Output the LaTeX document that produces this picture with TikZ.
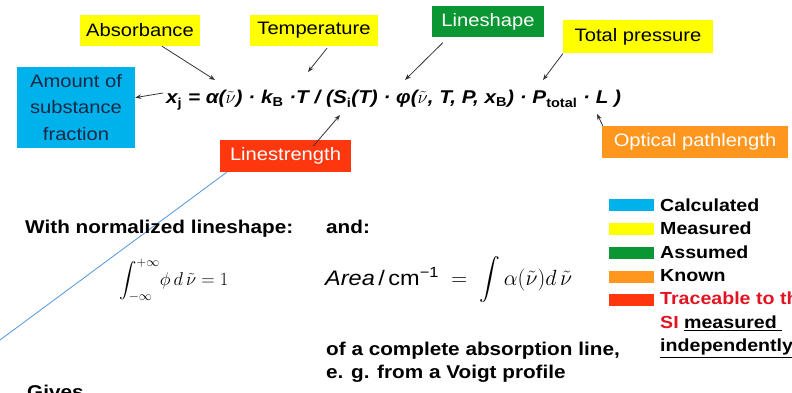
\RequirePackage{fix-cm}
\documentclass[tikz,border=0pt]{standalone}
\usepackage{amsmath}
\usepackage{fontspec}
\setmainfont[FakeStretch=1.12]{Liberation Sans}
\usetikzlibrary{arrows.meta}
\definecolor{calccol}{RGB}{0,178,235}
\definecolor{meascol}{RGB}{255,255,0}
\definecolor{assucol}{RGB}{10,150,50}
\definecolor{knowncol}{RGB}{255,150,30}
\definecolor{tracecol}{RGB}{255,55,15}
\definecolor{tracetext}{RGB}{225,20,35}
\definecolor{navytext}{RGB}{25,40,70}
\definecolor{guideblue}{RGB}{80,150,220}
\newcommand{\wnum}{$\tilde{\nu}$}
\tikzset{
  tag/.style={inner sep=0pt,minimum height=31pt,font=\fontsize{18}{21}\selectfont},
  ptr/.style={-{Stealth[length=6pt,width=4.5pt]},line width=0.8pt,black!80},
  bodytext/.style={inner sep=0pt,anchor=base west,font=\fontsize{18.5}{22}\selectfont\bfseries},
  keytext/.style={inner sep=0pt,anchor=base west,font=\fontsize{17.5}{21}\selectfont\bfseries},
}
\begin{document}
\begin{tikzpicture}[x=1pt,y=-1pt]
        \clip (0,0) rectangle (792,393);
        % etichette
        \node[tag,fill=meascol,minimum width=120pt] (abs) at (140,30.5) {Absorbance};
        \node[tag,fill=meascol,minimum width=128pt] (temp) at (314,30.5) {Temperature};
        \node[tag,fill=assucol,text=white,minimum width=112pt] (lsh) at (488,22) {Lineshape};
        \node[tag,fill=meascol,minimum width=150pt,minimum height=33pt] (tp) at (638,37) {Total pressure};
        \node[tag,fill=calccol,text=navytext,minimum width=118pt,minimum height=81pt,align=center,
              font=\fontsize{18}{26.5}\selectfont] (amount) at (76,107.5) {Amount of\\substance\\fraction};
        \node[tag,fill=tracecol,text=white,minimum width=131pt,minimum height=32pt] (ls) at (285.5,156) {Linestrength};
        \node[tag,fill=knowncol,text=white,minimum width=186pt,minimum height=32pt] (opt) at (695,142) {Optical pathlength};
        % formula
        \node[inner sep=0pt,anchor=base west,font=\fontsize{18.5}{21}\selectfont\bfseries\itshape] (eq) at (166,104)
          {x\textsubscript{\upshape j} = α(\wnum) · k\textsubscript{\upshape B} ·T / (S\textsubscript{\upshape i}(T) · φ(\wnum, T, P, x\textsubscript{\upshape B}) · P\textsubscript{\upshape total} · L )};
        % punte delle frecce
        \coordinate (pA) at (215,80);
        \coordinate (pT) at (308,72);
        \coordinate (pPhi) at (405,80);
        \coordinate (pP) at (543,80);
        \coordinate (pL) at (597,114);
        \coordinate (pS) at (340,115);
        \coordinate (pX) at (163,93);
        % frecce
        \draw[ptr] ([xshift=22pt]abs.south) -- (pA);
        \draw[ptr] ([xshift=13pt,yshift=-2pt]temp.south) -- (pT);
        \draw[ptr] ([xshift=11pt,yshift=-5pt]lsh.south west) -- (pPhi);
        \draw[ptr] (tp.south west) -- (pP);
        \draw[ptr] ([xshift=1pt]opt.north west) -- (pL);
        \draw[ptr] ([xshift=28pt,yshift=-6pt]ls.north) -- (pS);
        \draw[ptr] (pX) -- (amount);
        % linea blu
        \coordinate (lowend) at (0,340);
        \draw[guideblue,line width=0.8pt] ([xshift=7pt]ls.south west) -- (lowend);
        % testo sotto
        \node[bodytext] (norm) at (25,233) {With normalized lineshape:};
        \node[bodytext] (andt) at (326,233) {and:};
        \node[inner sep=0pt,anchor=base west,font=\fontsize{18.5}{22}\selectfont] (integ) at (119,285)
          {$\displaystyle\int\nolimits_{-\infty}^{+\infty}\!\phi\, d\,\tilde{\nu}=1$};
        \node[inner sep=0pt,anchor=base west,font=\fontsize{21}{26}\selectfont] (area) at (325,285)
          {\textit{Area}\,/\,cm\textsuperscript{−1}\; {\fontsize{22}{26}\selectfont$=\;\displaystyle\int\alpha(\tilde{\nu})d\,\tilde{\nu}$}};
        \node[bodytext] (compl) at (326,355) {of a complete absorption line,};
        \node[bodytext] (voigt) at (326,378) {e. g. from a Voigt profile};
        \node[bodytext] (gives) at (27,398) {Gives};
        % legenda
        \fill[calccol] (609,199) rectangle (654,211);
        \fill[meascol] (609,223) rectangle (654,235);
        \fill[assucol] (609,247) rectangle (654,259);
        \fill[knowncol] (609,271) rectangle (654,283);
        \fill[tracecol] (609,294) rectangle (654,306);
        \node[keytext] (kcalc) at (660,211) {Calculated};
        \node[keytext] (kmeas) at (660,234.5) {Measured};
        \node[keytext] (kassu) at (660,258) {Assumed};
        \node[keytext] (kknown) at (660,281) {Known};
        \node[keytext,text=tracetext] (ktrace) at (660,304.5) {Traceable to the};
        \node[keytext] (ksi) at (660,328) {\textcolor{tracetext}{SI} \underline{measured\ }};
        \node[keytext] (kind) at (660,351) {\underline{independently}};
\end{tikzpicture}
\end{document}
